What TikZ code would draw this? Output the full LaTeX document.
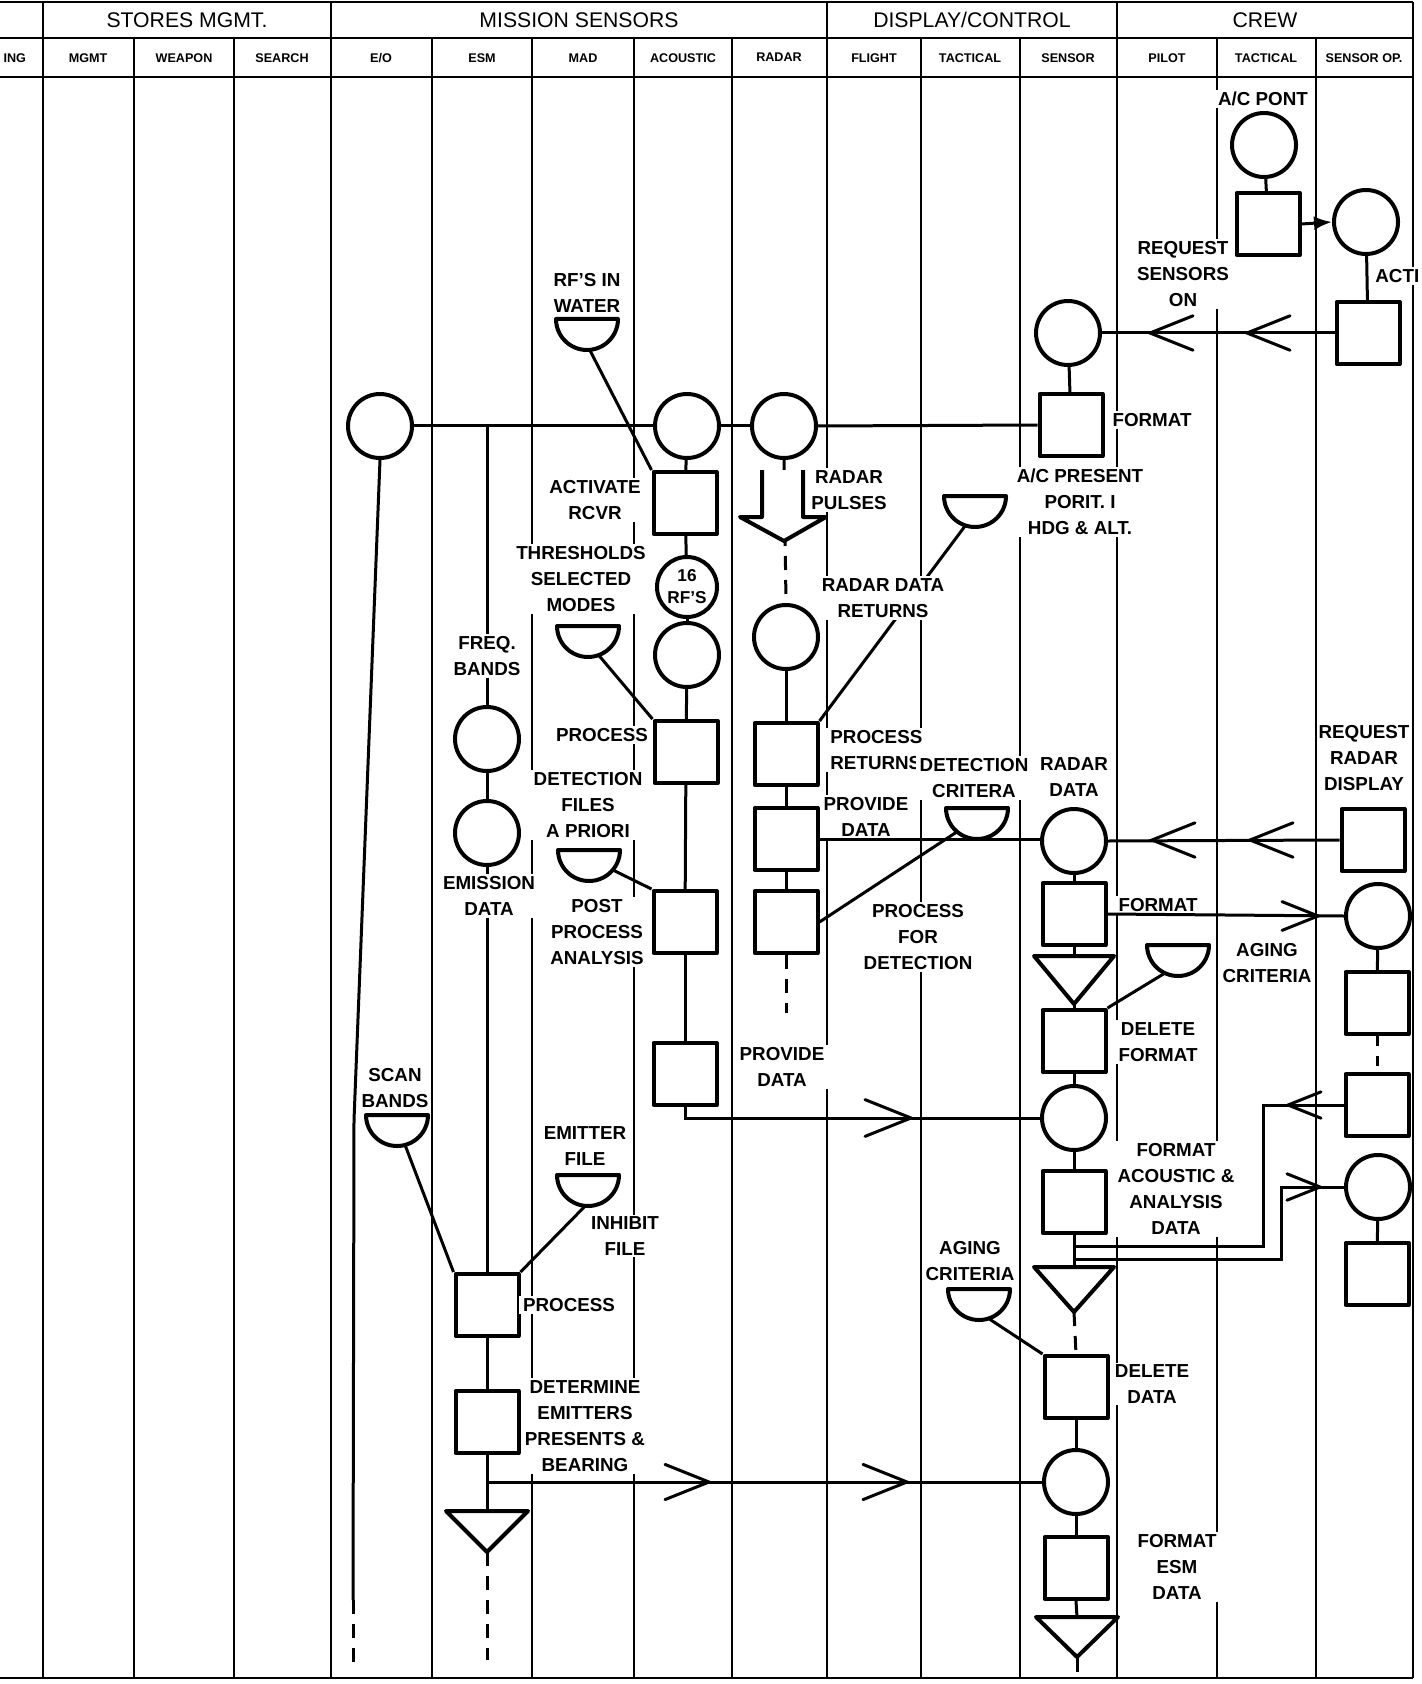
\documentclass[tikz,border=0pt]{standalone}
\usepackage{fontspec}
\setmainfont{Liberation Sans}
\usetikzlibrary{arrows.meta}
\newcommand\lblf{\bfseries\fontsize{9.4}{13}\selectfont}
\newcommand\dishAt[4]{%
  \draw[shp] ({#2-31},#3) -- ({#2+31},#3) arc[start angle=0,end angle=180,radius=31] -- cycle;
  \coordinate (#1) at ({#2+31*cos(#4)},{#3+31*sin(#4)});}
\newcommand\triAt[5]{%
  \draw[shp] ({#2-#4},#3) -- ({#2+#4},#3) -- (#2,{#3+#5}) -- cycle;
  \coordinate (#1top) at (#2,#3);
  \coordinate (#1) at (#2,{#3+#5});}
\newcommand\chevL[3]{\draw[chev] ({#1+#3},{#2-0.4*#3}) -- (#1,#2) -- ({#1+#3},{#2+0.4*#3});}
\newcommand\chevR[3]{\draw[chev] ({#1-#3},{#2-0.4*#3}) -- (#1,#2) -- ({#1-#3},{#2+0.4*#3});}
\begin{document}
\begin{tikzpicture}[x=0.5pt,y=-0.5pt,
  lane/.style={line width=1.4pt},
  conn/.style={line width=1.5pt},
  dsh/.style={line width=1.5pt, dash pattern=on 7pt off 5pt},
  chev/.style={line width=1.5pt, line cap=round},
  shp/.style={draw, line width=2pt, fill=white, line join=round},
  crc/.style={shp, circle, minimum size=32pt, inner sep=0pt},
  sq/.style={shp, rectangle, minimum width=31.5pt, minimum height=31pt, inner sep=0pt},
  lbl/.style={fill=white, inner xsep=2pt, inner ysep=1pt, align=center, font=\lblf},
  hdr/.style={font=\fontsize{10.6}{12}\selectfont},
  sub/.style={font=\bfseries\fontsize{6.3}{8}\selectfont}]
\useasboundingbox (0,0) rectangle (1421,1684);
\fill[white] (0,0) rectangle (1421,1684);

% ---------- frame and lanes ----------
\foreach \x in {134,234,432,532,634,732,921,1020,1217,1316}
  \draw[lane] (\x,38) -- (\x,1678);
\foreach \x in {43,331,827,1117,1413}
  \draw[lane] (\x,2) -- (\x,1678);
\foreach \y in {2,38,77,1678}
  \draw[lane] (0,\y) -- (1413,\y);

% ---------- headers ----------
\node[hdr] (hSto) at (187,20) {STORES MGMT.};
\node[hdr] (hMis) at (579,20) {MISSION SENSORS};
\node[hdr] (hDis) at (972,20) {DISPLAY/CONTROL};
\node[hdr] (hCrw) at (1265,20) {CREW};
\node[sub, anchor=east] (hIng) at (33,58) {ING};
\node[sub] (hMg) at (88,58) {MGMT};
\node[sub] (hWp) at (184,58) {WEAPON};
\node[sub] (hSe) at (282,58) {SEARCH};
\node[sub] (hEo) at (381,58) {E/O};
\node[sub] (hEs) at (482,58) {ESM};
\node[sub] (hMa) at (583,58) {MAD};
\node[sub] (hAc) at (683,58) {ACOUSTIC};
\node[sub] (hRa) at (779,57) {RADAR};
\node[sub] (hFl) at (874,58) {FLIGHT};
\node[sub] (hTa) at (970,58) {TACTICAL};
\node[sub] (hSn) at (1068,58) {SENSOR};
\node[sub] (hPi) at (1167,58) {PILOT};
\node[sub] (hTc) at (1266,58) {TACTICAL};
\node[sub] (hSo) at (1364,58) {SENSOR OP.};

% ---------- shapes ----------
% crew / top
\node[crc] (cAC) at (1264,145) {};
\node[sq] (sAC) at (1268,224) {};
\node[crc] (cAct) at (1366,222) {};
\node[sq] (sAct) at (1368,333) {};
\node[crc] (cSens) at (1068,333) {};
\node[sq] (sFmt) at (1071,425) {};
% bus
\node[crc] (cEO) at (380,426) {};
\node[crc] (cAc1) at (687,426) {};
\node[crc] (cRd1) at (784,426) {};
% acoustic
\node[sq] (sActv) at (685,503) {};
\node[crc, minimum size=30pt, align=center, font=\bfseries\fontsize{8.6}{11}\selectfont] (c16) at (687,587) {16\\RF'S};
\node[crc] (cAc2) at (687,655) {};
\node[sq] (sProc) at (686,752) {};
\node[sq] (sPost) at (685,922) {};
\node[sq] (sProv) at (685,1074) {};
\dishAt{dRF}{587}{319}{85}
\dishAt{dThr}{588}{626}{70}
\dishAt{dApr}{589}{850}{40}
% esm
\node[crc] (cFq1) at (487,739) {};
\node[crc] (cFq2) at (487,833) {};
\node[sq] (sEsmP) at (487,1305) {};
\node[sq] (sDet) at (487,1422) {};
\dishAt{dScan}{397}{1115}{75}
\dishAt{dEmit}{588}{1175}{95}
\triAt{tEsm}{487}{1511}{41}{41}
% radar
\node[crc] (cRd2) at (786,637) {};
\node[sq] (sRet) at (786,754) {};
\node[sq] (sRPrv) at (786,839) {};
\node[sq] (sRDet) at (786,922) {};
\dishAt{dRet}{975}{496}{108}
\dishAt{dCrit}{977}{808}{130}
% sensor column and sensor operator
\node[crc] (cRdat) at (1074,841) {};
\node[sq] (sReq) at (1373,840) {};
\node[sq] (sFmt2) at (1074,914) {};
\node[crc] (cOp1) at (1378,916) {};
\node[sq] (sOp1) at (1377,1003) {};
\node[sq] (sOp2) at (1377,1105) {};
\node[crc] (cOp2) at (1378,1187) {};
\node[sq] (sOp3) at (1377,1274) {};
\triAt{tS1}{1074}{956}{40}{48}
\dishAt{dAge1}{1178}{945}{115}
\node[sq] (sDelF) at (1074,1041) {};
\node[crc] (cAcF) at (1074,1118) {};
\node[sq] (sFAc) at (1074,1202) {};
\triAt{tS2}{1074}{1267}{40}{45}
\dishAt{dAge2}{979}{1289}{72}
\node[sq] (sDelD) at (1076,1387) {};
\node[crc] (cEsmF) at (1076,1482) {};
\node[sq] (sFEsm) at (1076,1568) {};
\triAt{tS3}{1077}{1617}{41}{40}

% ---------- connectors that labels interrupt ----------
\coordinate (busEsm) at (487,426);
\draw[conn] (busEsm) -- (cFq1.north);
\draw[conn] (cFq1.south) -- (cFq2.north);
\draw[conn] (cFq2.south) -- (sEsmP.north);
\draw[conn] (dRet) -- (sRet.north east);

% ---------- labels ----------
\node[lbl, inner xsep=1pt] (lAC) at (1263,99) {A/C PONT};
\node[lbl, anchor=west, inner xsep=0pt] (lActi) at (1375,276) {ACTI};
\node[lbl] (lReq) at (1183,274) {REQUEST\\SENSORS\\ON};
\node[lbl] (lFmt) at (1152,420) {FORMAT};
\node[lbl] (lPres) at (1080,502) {A/C PRESENT\\PORIT. I\\HDG \& ALT.};
\node[lbl] (lRF) at (587,293) {RF'S IN\\WATER};
\node[lbl] (lActv) at (595,500) {ACTIVATE\\RCVR};
\node[lbl] (lThr) at (581,579) {THRESHOLDS\\SELECTED\\MODES};
\node[lbl] (lFreq) at (487,656) {FREQ.\\BANDS};
\node[lbl] (lProc) at (602,735) {PROCESS};
\node[lbl] (lDetF) at (588,805) {DETECTION\\FILES\\A PRIORI};
\node[lbl] (lEmis) at (489,896) {EMISSION\\DATA};
\node[lbl] (lPost) at (597,932) {POST\\PROCESS\\ANALYSIS};
\node[lbl] (lProv) at (782,1067) {PROVIDE\\DATA};
\node[lbl] (lPuls) at (849,490) {RADAR\\PULSES};
\node[lbl] (lRDR) at (883,598) {RADAR DATA\\RETURNS};
\node[lbl, anchor=west, align=left] (lPRet) at (826,750) {PROCESS\\RETURNS};
\node[lbl] (lCrit) at (974,778) {DETECTION\\CRITERA};
\node[lbl] (lRDat) at (1074,777) {RADAR\\DATA};
\node[lbl] (lRPrv) at (866,817) {PROVIDE\\DATA};
\node[lbl] (lPFD) at (918,937) {PROCESS\\FOR\\DETECTION};
\node[lbl, inner xsep=0pt] (lReqR) at (1364,758) {REQUEST\\RADAR\\DISPLAY};
\node[lbl] (lFmt2) at (1158,905) {FORMAT};
\node[lbl] (lAge1) at (1267,963) {AGING\\CRITERIA};
\node[lbl] (lDelF) at (1158,1042) {DELETE\\FORMAT};
\node[lbl] (lFAc) at (1176,1189) {FORMAT\\ACOUSTIC \&\\ANALYSIS\\DATA};
\node[lbl] (lAge2) at (970,1261) {AGING\\CRITERIA};
\node[lbl] (lDelD) at (1152,1384) {DELETE\\DATA};
\node[lbl] (lFEsm) at (1177,1567) {FORMAT\\ESM\\DATA};
\node[lbl, inner xsep=0pt] (lScan) at (395,1088) {SCAN\\BANDS};
\node[lbl] (lEmit) at (585,1146) {EMITTER\\FILE};
\node[lbl] (lInh) at (625,1236) {INHIBIT\\FILE};
\node[lbl] (lEProc) at (569,1305) {PROCESS};
\node[lbl] (lDet) at (585,1426) {DETERMINE\\EMITTERS\\PRESENTS \&\\BEARING};

% ---------- connectors ----------
% crew start
\draw[conn] (cAC) -- (sAC);
\draw[conn, -{Latex[length=9pt,width=7pt]}] (sAC.east) -- (cAct.west);
\draw[conn] (cAct) -- (sAct);
\draw[conn] (sAct.west) -- (cSens.east);
\chevL{1150}{333}{43}
\chevL{1247}{333}{43}
\draw[conn] (cSens) -- (sFmt);
% bus
\draw[conn] (cEO.east) -- (cAc1.west);
\draw[conn] (cAc1.east) -- (cRd1.west);
\draw[conn] (cRd1.east) -- (sFmt.west);
% E/O line
\coordinate (eoBend) at (354,1120);
\coordinate (eoEnd) at (353,1600);
\coordinate (eoDash) at (353,1665);
\draw[conn] (cEO.south) -- (eoBend) -- (eoEnd);
\draw[dsh] (eoEnd) -- (eoDash);
% acoustic chain
\draw[conn] (cAc1) -- (sActv);
\draw[conn] (sActv) -- (c16);
\draw[conn] (c16) -- (cAc2);
\draw[conn] (cAc2) -- (sProc);
\draw[conn] (sProc) -- (sPost);
\draw[conn] (sPost) -- (sProv);
\draw[conn] (dRF) -- (sActv.north west);
\draw[conn] (dThr) -- (sProc.north west);
\draw[conn] (dApr) -- (sPost.north west);
\draw[conn] (sProv.south) |- (cAcF.west);
\chevR{911}{1118}{46}
% radar chain
\coordinate (rdEnd) at (786,1013);
\draw[dsh] (cRd1.south) -- (cRd2.north);
\fill[white] (762,470) -- (762,517) -- (740,517) -- (784,541) -- (826,517) -- (803,517) -- (803,470) -- cycle;
\draw[line width=2pt, line join=round] (762,470) -- (762,517) -- (740,517) -- (784,541) -- (826,517) -- (803,517) -- (803,470);
\draw[conn] (cRd2) -- (sRet);
\draw[conn] (sRet) -- (sRPrv);
\draw[conn] (sRPrv) -- (sRDet);
\draw[dsh] (sRDet.south) -- (rdEnd);
\draw[conn] (sRPrv.east) -- (sRPrv.east -| cRdat.west);
\draw[conn] (sRDet.east) -- (dCrit);
% sensor column
\draw[conn] (sReq.west) -- (cRdat.east);
\chevL{1152}{840}{43}
\chevL{1250}{840}{43}
\draw[conn] (cRdat) -- (sFmt2);
\draw[conn] (sFmt2.south) -- (tS1top);
\draw[conn] (tS1) -- (sDelF.north);
\draw[conn] (dAge1) -- (sDelF.north east);
\draw[conn] (sDelF) -- (cAcF);
\draw[conn] (cAcF) -- (sFAc);
\draw[conn] (sFAc.south) -- (tS2top);
\draw[conn] (sFmt2.east) -- (cOp1.west);
\chevR{1318}{916}{36}
\draw[conn] (cOp1) -- (sOp1);
\draw[line width=1.5pt, dash pattern=on 5pt off 5pt] (sOp1.south) -- (sOp2.north);
\draw[conn] (cOp2) -- (sOp3);
\coordinate (br1) at (1074,1246);
\coordinate (br1e) at (1263,1246);
\coordinate (br2) at (1074,1259);
\coordinate (br2e) at (1281,1259);
\draw[conn] (sOp2.west) -| (br1e) -- (br1);
\chevL{1288}{1105}{33}
\draw[conn] (cOp2.west) -| (br2e) -- (br2);
\chevR{1320}{1187}{33}
\draw[dsh] (tS2) -- (sDelD.north);
\draw[conn] (dAge2) -- (sDelD.north west);
\draw[conn] (sDelD) -- (cEsmF);
\draw[conn] (cEsmF) -- (sFEsm);
\draw[conn] (sFEsm.south) -- (tS3top);
\coordinate (s3End) at (1077,1672);
\draw[conn] (tS3) -- (s3End);
% esm chain
\draw[conn] (dScan) -- (sEsmP.north west);
\draw[conn] (dEmit) -- (sEsmP.north east);
\draw[conn] (sEsmP) -- (sDet);
\draw[conn] (sDet.south) -- (tEsmtop);
\coordinate (esmBr) at (487,1482);
\draw[conn] (esmBr) -- (cEsmF.west);
\chevR{709}{1482}{44}
\chevR{907}{1482}{44}
\coordinate (esmEnd) at (487,1660);
\draw[dsh] (tEsm) -- (esmEnd);
\end{tikzpicture}
\end{document}
